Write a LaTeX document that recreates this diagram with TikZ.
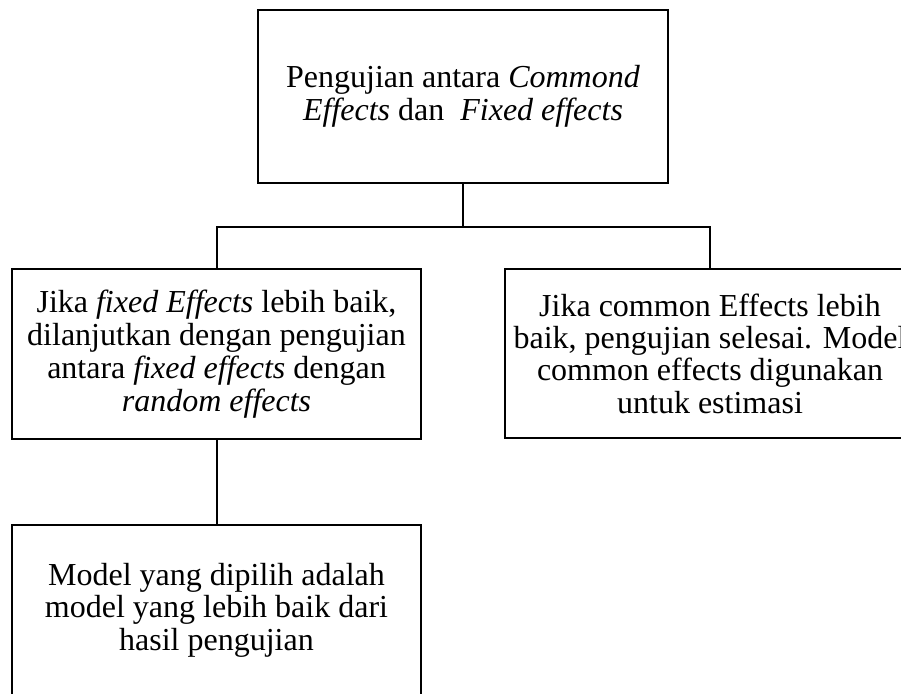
\documentclass[tikz,border=0pt]{standalone}
\usepackage{fontspec}
\setmainfont{Liberation Serif}
\begin{document}
\begin{tikzpicture}[x=1pt,y=-1pt,
  box/.style={draw,line width=2pt,rectangle,align=center,inner sep=0pt,
    font=\fontsize{32}{33}\selectfont},
  conn/.style={line width=2pt}]
\useasboundingbox (0,0) rectangle (901,693);
\clip (0,0) rectangle (901,693);
\node[box,minimum width=410pt,minimum height=173pt] (top) at (463,96.5)
  {Pengujian antara \textit{Commond}\\\textit{Effects} dan\ \ \textit{Fixed effects}};
\node[box,minimum width=409pt,minimum height=170pt] (left) at (216.5,354)
  {Jika \textit{fixed Effects} lebih baik,\\dilanjutkan dengan pengujian\\antara \textit{fixed effects} dengan\\\textit{random effects}};
\node[box,minimum width=410pt,minimum height=169pt,font=\fontsize{32}{32.3}\selectfont] (right) at (710,353.5)
  {Jika common Effects lebih\\baik, pengujian selesai. Model\\common effects digunakan\\untuk estimasi};
\node[box,minimum width=409pt,minimum height=170pt,font=\fontsize{32}{32.5}\selectfont] (bottom) at (216.5,610)
  {Model yang dipilih adalah\\model yang lebih baik dari\\hasil pengujian};
\coordinate (j) at (463,227);
\draw[conn] (top.south) -- (j);
\draw[conn] (left.north) |- (j) -| (right.north);
\draw[conn] (left.south) -- (bottom.north);
\end{tikzpicture}
\end{document}
